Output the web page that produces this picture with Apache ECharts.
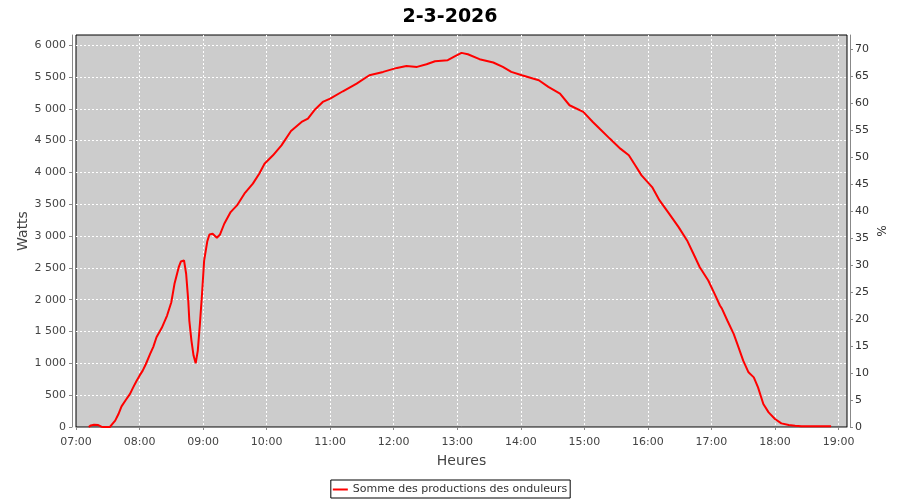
<!DOCTYPE html>
<html><head><meta charset="utf-8">
<script src="https://cdn.jsdelivr.net/npm/echarts@6/dist/echarts.min.js"></script>
<style>html,body{margin:0;padding:0;background:#fff}#c{width:900px;height:500px}</style>
</head><body><div id="c"></div>
<script>
const chartTitle = '2-3-2026';
const seriesName = 'Somme des productions des onduleurs';
const xName = 'Heures';
const yLeftName = 'Watts';
const yRightName = '%';
const times = ['07:12','07:14','07:17','07:21','07:24','07:26','07:32','07:34','07:37','07:40','07:43','07:47','07:51','07:54','07:57','08:00','08:03','08:06','08:10','08:13','08:16','08:21','08:26','08:30','08:33','08:37','08:39','08:40','08:42','08:44','08:46','08:47','08:49','08:51','08:53','08:55','08:57','08:59','09:01','09:04','09:06','09:09','09:13','09:16','09:20','09:26','09:32','09:39','09:47','09:53','09:58','10:06','10:14','10:23','10:33','10:39','10:45','10:53','11:00','11:12','11:25','11:37','11:50','12:03','12:12','12:22','12:31','12:39','12:51','12:58','13:04','13:10','13:21','13:34','13:43','13:51','14:01','14:17','14:26','14:37','14:46','14:59','15:08','15:15','15:24','15:34','15:42','15:48','15:54','16:04','16:11','16:20','16:29','16:37','16:43','16:49','16:57','17:03','17:08','17:10','17:15','17:21','17:25','17:30','17:35','17:40','17:44','17:49','17:54','18:00','18:06','18:13','18:19','18:25','18:53'];
const watts = [0,25,35,30,5,0,0,40,100,200,324,425,520,623,720,807,886,990,1149,1260,1410,1558,1751,1961,2250,2511,2600,2628,2617,2408,1987,1673,1358,1122,1001,1201,1621,2093,2617,2920,3026,3037,2974,3026,3194,3377,3482,3666,3824,3981,4138,4269,4426,4651,4793,4846,4977,5108,5161,5276,5397,5528,5580,5643,5674,5659,5701,5748,5764,5827,5879,5858,5780,5728,5659,5580,5528,5449,5344,5240,5056,4951,4793,4678,4532,4374,4269,4112,3954,3770,3561,3352,3141,2932,2722,2511,2302,2093,1909,1857,1673,1463,1279,1043,859,780,623,362,230,126,57,31,20,10,10];
const xRange = ['07:00','19:08'];   // axis span, ticks every hour
const yLeftRange = [0, 6160];       // ticks every 500
const yRightRange = [0, 72.6];      // ticks every 5

function toMin(s){const p=s.split(':');return (+p[0])*60+(+p[1]);}
function pad(n){return (n<10?'0':'')+n;}
function fmtTime(v){return pad(Math.floor(v/60))+':'+pad(Math.round(v%60));}
function fmtThousands(v){return String(v).replace(/\B(?=(\d{3})+(?!\d))/g,' ');}

const data = times.map((t,i)=>[toMin(t), watts[i]]);
const FONT = 'DejaVu Sans';
const chart = echarts.init(document.getElementById('c'), null, {renderer:'canvas'});
const axisLineStyle = {color:'#888888', width:1};
const gridLine = {show:true, showMinLine:false, showMaxLine:false, lineStyle:{color:'#ffffff', width:1, type:[2,2]}};
chart.setOption({
  animation:false,
  backgroundColor:'#ffffff',
  title:{text:chartTitle, left:'center', top:3, textStyle:{fontFamily:FONT, fontSize:19, fontWeight:'bold', color:'#000'}},
  legend:{data:[seriesName], bottom:2, left:'center', icon:'rect', itemWidth:15, itemHeight:2,
    borderColor:'#000', borderWidth:1, padding:[4,3,3,2], itemGap:5,
    textStyle:{fontFamily:FONT, fontSize:11, color:'#333'}},
  grid:{show:true, left:76, right:53, top:35, bottom:73, backgroundColor:'#cccccc', borderColor:'#000', borderWidth:1},
  xAxis:{type:'value', min:toMin(xRange[0]), max:toMin(xRange[1]), interval:60, offset:3,
    name:xName, nameLocation:'middle', nameGap:24, nameMoveOverlap:false, nameTextStyle:{fontFamily:FONT, fontSize:14, color:'#444'},
    axisLine:{show:true, lineStyle:axisLineStyle}, axisTick:{show:true, length:3, lineStyle:axisLineStyle},
    axisLabel:{formatter:fmtTime, showMaxLabel:false, fontFamily:FONT, fontSize:11, color:'#444', margin:7},
    splitLine:gridLine},
  yAxis:[
    {type:'value', position:'left', min:yLeftRange[0], max:yLeftRange[1], interval:500, offset:4,
     name:yLeftName, nameLocation:'middle', nameGap:42, nameMoveOverlap:false, nameTextStyle:{fontFamily:FONT, fontSize:14, color:'#444'},
     axisLine:{show:true, lineStyle:axisLineStyle}, axisTick:{show:true, length:3, lineStyle:axisLineStyle},
     axisLabel:{formatter:fmtThousands, showMaxLabel:false, fontFamily:FONT, fontSize:11, color:'#444', margin:6},
     splitLine:gridLine},
    {type:'value', position:'right', min:yRightRange[0], max:yRightRange[1], interval:5, offset:3,
     name:yRightName, nameLocation:'middle', nameGap:24, nameRotate:-90, nameMoveOverlap:false, nameTextStyle:{fontFamily:FONT, fontSize:12, color:'#333'},
     axisLine:{show:true, lineStyle:axisLineStyle}, axisTick:{show:true, length:3, lineStyle:axisLineStyle},
     axisLabel:{showMaxLabel:false, fontFamily:FONT, fontSize:11, color:'#333', margin:5},
     splitLine:{show:false}}
  ],
  series:[{name:seriesName, type:'line', yAxisIndex:0, data:data, showSymbol:false, symbol:'none',
    lineStyle:{color:'#ff0000', width:2}, itemStyle:{color:'#ff0000'}}]
});
</script></body></html>
